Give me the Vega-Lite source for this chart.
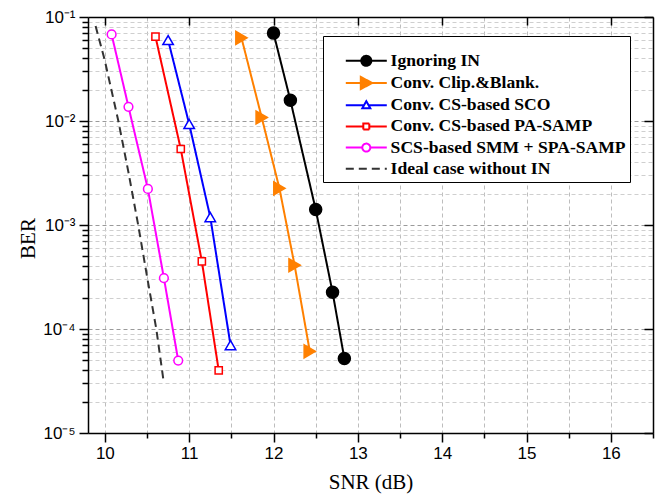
{
  "$schema": "https://vega.github.io/schema/vega-lite/v6.json",
  "autosize": {"type": "none"},
  "padding": {"left": 88, "top": 17, "right": 8, "bottom": 67},
  "width": 565,
  "height": 416,
  "background": "white",
  "config": {"view": {"stroke": null}},
  "data": {"values": [
    {"series": "Ignoring IN", "snr": 12.0, "ber": 0.07},
    {"series": "Ignoring IN", "snr": 12.2, "ber": 0.0158},
    {"series": "Ignoring IN", "snr": 12.5, "ber": 0.00141},
    {"series": "Ignoring IN", "snr": 12.7, "ber": 0.000226},
    {"series": "Ignoring IN", "snr": 12.84, "ber": 0.000052},
    {"series": "Conv. Clip.&Blank.", "snr": 11.62, "ber": 0.063},
    {"series": "Conv. Clip.&Blank.", "snr": 11.86, "ber": 0.0108},
    {"series": "Conv. Clip.&Blank.", "snr": 12.07, "ber": 0.00225},
    {"series": "Conv. Clip.&Blank.", "snr": 12.25, "ber": 0.00041},
    {"series": "Conv. Clip.&Blank.", "snr": 12.43, "ber": 0.000061},
    {"series": "Conv. CS-based SCO", "snr": 10.75, "ber": 0.06},
    {"series": "Conv. CS-based SCO", "snr": 11.0, "ber": 0.00935},
    {"series": "Conv. CS-based SCO", "snr": 11.25, "ber": 0.00119},
    {"series": "Conv. CS-based SCO", "snr": 11.49, "ber": 0.00007},
    {"series": "Conv. CS-based PA-SAMP", "snr": 10.6, "ber": 0.0648},
    {"series": "Conv. CS-based PA-SAMP", "snr": 10.9, "ber": 0.00538},
    {"series": "Conv. CS-based PA-SAMP", "snr": 11.15, "ber": 0.000447},
    {"series": "Conv. CS-based PA-SAMP", "snr": 11.35, "ber": 0.00004},
    {"series": "SCS-based SMM + SPA-SAMP", "snr": 10.08, "ber": 0.068},
    {"series": "SCS-based SMM + SPA-SAMP", "snr": 10.28, "ber": 0.0137},
    {"series": "SCS-based SMM + SPA-SAMP", "snr": 10.51, "ber": 0.00222},
    {"series": "SCS-based SMM + SPA-SAMP", "snr": 10.7, "ber": 0.000309},
    {"series": "SCS-based SMM + SPA-SAMP", "snr": 10.87, "ber": 0.0000497},
    {"series": "Ideal case without IN", "snr": 9.89, "ber": 0.082},
    {"series": "Ideal case without IN", "snr": 10.0, "ber": 0.038},
    {"series": "Ideal case without IN", "snr": 10.16, "ber": 0.01},
    {"series": "Ideal case without IN", "snr": 10.28, "ber": 0.0032},
    {"series": "Ideal case without IN", "snr": 10.395, "ber": 0.001},
    {"series": "Ideal case without IN", "snr": 10.5, "ber": 0.00032},
    {"series": "Ideal case without IN", "snr": 10.61, "ber": 0.0001},
    {"series": "Ideal case without IN", "snr": 10.7, "ber": 0.00003}
  ]},
  "resolve": {"axis": {"x": "independent", "y": "independent"}},
  "layer": [
    {
      "mark": {"type": "line", "strokeWidth": 2},
      "encoding": {
        "x": {
          "field": "snr", "type": "quantitative",
          "scale": {"domain": [9.8, 16.5], "nice": false, "zero": false},
          "axis": {
            "orient": "bottom",
            "title": "SNR (dB)",
            "titleFont": "Liberation Serif", "titleFontSize": 21, "titleFontWeight": "normal", "titleColor": "black", "titlePadding": 10,
            "values": [10, 10.5, 11, 11.5, 12, 12.5, 13, 13.5, 14, 14.5, 15, 15.5, 16, 16.5],
            "labelExpr": "datum.value % 1 === 0 ? format(datum.value, 'd') : ''",
            "labelFont": "Liberation Sans", "labelFontSize": 17, "labelColor": "black", "labelPadding": 3,
            "labelFlush": false, "labelOverlap": false,
            "tickSize": {"condition": {"test": "datum.value % 1 === 0", "value": 9}, "value": 5},
            "tickColor": "black", "tickWidth": 1.5,
            "domainColor": "black", "domainWidth": 1.5,
            "grid": true, "gridColor": "#bdbdbd", "gridDash": [4, 3], "gridWidth": 1
          }
        },
        "y": {
          "field": "ber", "type": "quantitative",
          "scale": {"type": "log", "domain": [0.00001, 0.1], "nice": false},
          "axis": {
            "orient": "left",
            "title": "BER",
            "titleFont": "Liberation Serif", "titleFontSize": 21, "titleFontWeight": "normal", "titleColor": "black", "titlePadding": 4, "titleY": 221,
            "values": [0.00001, 0.00002, 0.00003, 0.00004, 0.00005, 0.00006, 0.00007, 0.00008, 0.00009,
                       0.0001, 0.0002, 0.0003, 0.0004, 0.0005, 0.0006, 0.0007, 0.0008, 0.0009,
                       0.001, 0.002, 0.003, 0.004, 0.005, 0.006, 0.007, 0.008, 0.009,
                       0.01, 0.02, 0.03, 0.04, 0.05, 0.06, 0.07, 0.08, 0.09, 0.1],
            "labelExpr": "abs(log(datum.value)/LN10 - round(log(datum.value)/LN10)) < 0.001 ? '10' + ['⁻⁵','⁻⁴','⁻³','⁻²','⁻¹'][round(log(datum.value)/LN10) + 5] : ''",
            "labelFont": "Liberation Sans", "labelFontSize": 17, "labelColor": "black", "labelPadding": 4,
            "labelFlush": false, "labelOverlap": false,
            "tickSize": {"condition": {"test": "abs(log(datum.value)/LN10 - round(log(datum.value)/LN10)) < 0.001", "value": 9}, "value": 6},
            "tickColor": "black", "tickWidth": 1.5,
            "domainColor": "black", "domainWidth": 1.5,
            "grid": true,
            "gridColor": {"condition": {"test": "abs(log(datum.value)/LN10 - round(log(datum.value)/LN10)) < 0.001", "value": "#9a9a9a"}, "value": "#cfcfcf"},
            "gridDash": [4, 3], "gridWidth": 1
          }
        },
        "color": {
          "field": "series", "type": "nominal",
          "scale": {
            "domain": ["Ignoring IN", "Conv. Clip.&Blank.", "Conv. CS-based SCO", "Conv. CS-based PA-SAMP", "SCS-based SMM + SPA-SAMP", "Ideal case without IN"],
            "range": ["#000000", "#FF8000", "#0000FF", "#FF0000", "#FF00FF", "#333333"]
          },
          "legend": {
            "orient": "none", "legendX": 235, "legendY": 19,
            "title": " ", "titleFontSize": 9, "titlePadding": 3,
            "fillColor": "white", "strokeColor": "black", "padding": 4,
            "labelFont": "Liberation Serif", "labelFontSize": 17.6, "labelFontWeight": "bold", "labelColor": "black",
            "labelLimit": 400, "symbolSize": 100, "symbolStrokeWidth": 2, "rowPadding": 2.2, "labelOffset": 46,
            "encode": {
              "symbols": {
                "update": {
                  "shape": {"signal": "datum.value === 'Ignoring IN' ? 'M2,0H10.2M5.1,0A1,1 0 1,0 7.1,0A1,1 0 1,0 5.1,0Z' : datum.value === 'Conv. Clip.&Blank.' ? 'M2,0H10.2M5,-1.2L7.3,0L5,1.2Z' : datum.value === 'Conv. CS-based SCO' ? 'M2,0H5.64M6.56,0H10.2M6.1,-0.8L6.9,0.6L5.3,0.6Z' : datum.value === 'Conv. CS-based PA-SAMP' ? 'M2,0H5.5M6.7,0H10.2M5.5,-0.6H6.7V0.6H5.5Z' : datum.value === 'SCS-based SMM + SPA-SAMP' ? 'M2,0H5.3M6.9,0H10.2M5.3,0A0.8,0.8 0 1,0 6.9,0A0.8,0.8 0 1,0 5.3,0Z' : 'M2,0H10.2'"},
                  "fill": {"signal": "datum.value === 'Ignoring IN' ? '#000000' : datum.value === 'Conv. Clip.&Blank.' ? '#FF8000' : datum.value === 'Ideal case without IN' ? 'transparent' : '#ffffff'"},
                  "strokeDash": {"signal": "datum.value === 'Ideal case without IN' ? [10, 5] : [1, 0]"},
                  "strokeWidth": {"value": 2},
                  "size": {"value": 100},
                  "opacity": {"value": 1}
                }
              }
            }
          }
        },
        "strokeDash": {
          "field": "series", "type": "nominal",
          "scale": {
            "domain": ["Ignoring IN", "Conv. Clip.&Blank.", "Conv. CS-based SCO", "Conv. CS-based PA-SAMP", "SCS-based SMM + SPA-SAMP", "Ideal case without IN"],
            "range": [[1, 0], [1, 0], [1, 0], [1, 0], [1, 0], [8, 5]]
          },
          "legend": null
        }
      }
    },
    {
      "transform": [{"filter": "datum.series !== 'Ideal case without IN'"}],
      "mark": {"type": "point", "filled": true, "strokeWidth": 1.5, "opacity": 1},
      "encoding": {
        "x": {
          "field": "snr", "type": "quantitative",
          "axis": {
            "orient": "top", "title": null, "labels": false, "grid": false,
            "values": [10, 11, 12, 13, 14, 15, 16],
            "tickSize": -8, "tickColor": "black", "tickWidth": 1.5,
            "domainColor": "black", "domainWidth": 1.5
          }
        },
        "y": {
          "field": "ber", "type": "quantitative",
          "axis": {
            "orient": "right", "title": null, "labels": false, "grid": false,
            "values": [0.00001, 0.0001, 0.001, 0.01, 0.1],
            "tickSize": -9, "tickColor": "black", "tickWidth": 1.5,
            "domainColor": "black", "domainWidth": 1.5
          }
        },
        "shape": {
          "field": "series", "type": "nominal",
          "scale": {
            "domain": ["Ignoring IN", "Conv. Clip.&Blank.", "Conv. CS-based SCO", "Conv. CS-based PA-SAMP", "SCS-based SMM + SPA-SAMP"],
            "range": ["circle", "triangle-right", "triangle-up", "square", "circle"]
          },
          "legend": null
        },
        "fill": {
          "field": "series", "type": "nominal",
          "scale": {
            "domain": ["Ignoring IN", "Conv. Clip.&Blank.", "Conv. CS-based SCO", "Conv. CS-based PA-SAMP", "SCS-based SMM + SPA-SAMP"],
            "range": ["#000000", "#FF8000", "#ffffff", "#ffffff", "#ffffff"]
          },
          "legend": null
        },
        "stroke": {
          "field": "series", "type": "nominal",
          "scale": {
            "domain": ["Ignoring IN", "Conv. Clip.&Blank.", "Conv. CS-based SCO", "Conv. CS-based PA-SAMP", "SCS-based SMM + SPA-SAMP"],
            "range": ["#000000", "#FF8000", "#0000FF", "#FF0000", "#FF00FF"]
          },
          "legend": null
        },
        "size": {
          "field": "series", "type": "nominal",
          "scale": {
            "type": "ordinal",
            "domain": ["Ignoring IN", "Conv. Clip.&Blank.", "Conv. CS-based SCO", "Conv. CS-based PA-SAMP", "SCS-based SMM + SPA-SAMP"],
            "range": [144, 170, 110, 52, 76]
          },
          "legend": null
        }
      }
    }
  ]
}
